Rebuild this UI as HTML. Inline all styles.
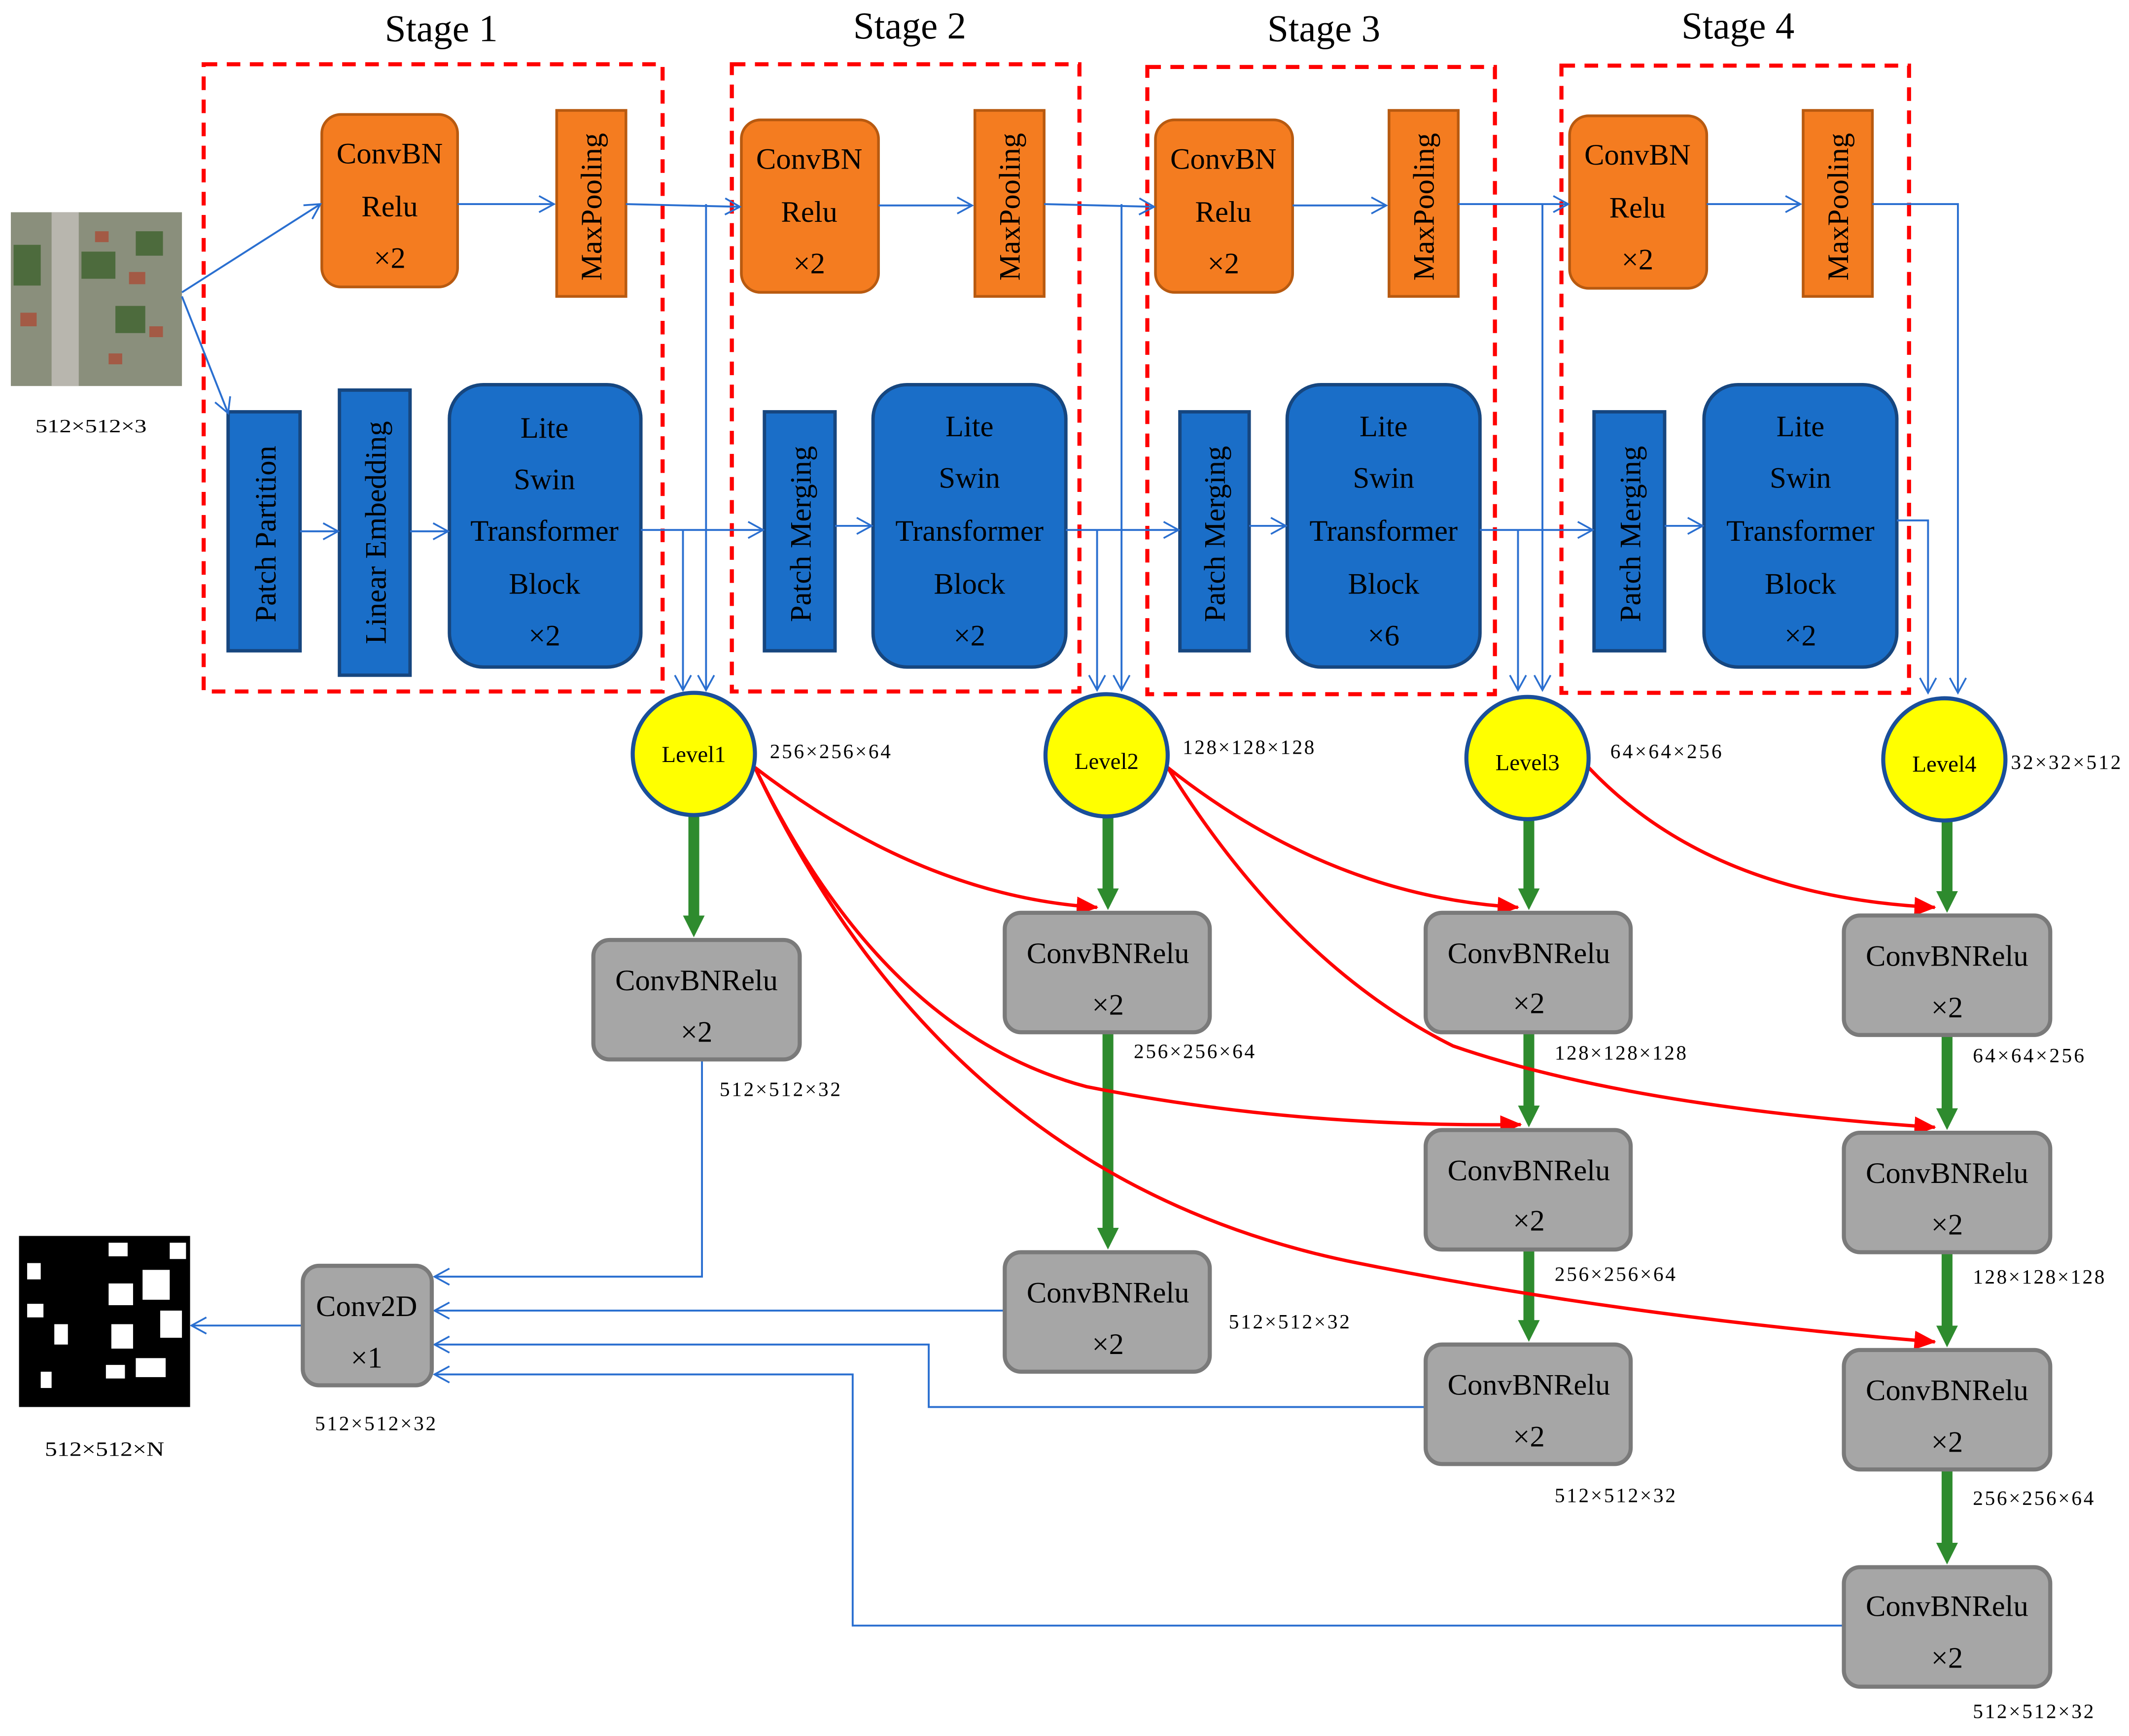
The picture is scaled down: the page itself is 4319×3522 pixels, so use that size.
<!DOCTYPE html>
<html><head><meta charset="utf-8"><style>html,body{margin:0;padding:0;background:#fff}svg{display:block}</style></head>
<body>
<svg xmlns="http://www.w3.org/2000/svg" width="4319" height="3522" viewBox="0 0 1568 1278" font-family="'Liberation Serif', serif">
<defs>
<marker id="ba" markerWidth="14" markerHeight="14" refX="12" refY="7" orient="auto" markerUnits="userSpaceOnUse"><polyline points="1,1 12,7 1,13" fill="none" stroke="#2a6fd0" stroke-width="1.3"/></marker>
<marker id="ra" markerWidth="16" markerHeight="14" refX="15" refY="7" orient="auto" markerUnits="userSpaceOnUse"><polygon points="0,0 16,7 0,14" fill="#f00"/></marker>
<marker id="ga" markerWidth="18" markerHeight="16" refX="8" refY="8" orient="auto" markerUnits="userSpaceOnUse"><polygon points="0,0 16,8 0,16" fill="#2e8b2e"/></marker>
</defs>
<rect width="1568" height="1278" fill="#fff"/>
<g font-size="28" text-anchor="middle" fill="#000">
<text x="325" y="30">Stage 1</text><text x="670" y="28">Stage 2</text><text x="975" y="30">Stage 3</text><text x="1280" y="28">Stage 4</text>
</g>
<g fill="none" stroke="#f00" stroke-width="3" stroke-dasharray="10,7">
<rect x="150" y="47" width="338" height="462"/><rect x="539" y="47" width="256" height="462"/><rect x="845" y="49" width="256" height="462"/><rect x="1150" y="48" width="256" height="462"/>
</g>
<rect x="8" y="156" width="126" height="128" fill="#8a8f7c"/>
<rect x="38" y="156" width="20" height="128" fill="#b8b6ae"/>
<g fill="#a35a45"><rect x="70" y="170" width="10" height="8"/><rect x="95" y="200" width="12" height="9"/><rect x="110" y="240" width="10" height="8"/><rect x="15" y="230" width="12" height="10"/><rect x="80" y="260" width="10" height="8"/></g>
<g fill="#4d6b3d"><rect x="60" y="185" width="25" height="20"/><rect x="100" y="170" width="20" height="18"/><rect x="10" y="180" width="20" height="30"/><rect x="85" y="225" width="22" height="20"/></g>
<text x="26" y="318" font-size="14" textLength="82" lengthAdjust="spacingAndGlyphs">512×512×3</text>
<rect x="14" y="910" width="126" height="126" fill="#000"/>
<g fill="#fff"><rect x="20" y="930" width="10" height="12"/><rect x="20" y="960" width="12" height="10"/><rect x="40" y="975" width="10" height="15"/><rect x="80" y="915" width="14" height="10"/><rect x="80" y="945" width="18" height="16"/><rect x="105" y="935" width="20" height="22"/><rect x="118" y="965" width="16" height="20"/><rect x="82" y="975" width="16" height="18"/><rect x="100" y="1000" width="22" height="14"/><rect x="78" y="1005" width="14" height="10"/><rect x="30" y="1010" width="8" height="12"/><rect x="125" y="915" width="12" height="12"/></g>
<text x="33" y="1072" font-size="15" textLength="88" lengthAdjust="spacingAndGlyphs">512×512×N</text>
<g fill="#f47c20" stroke="#b85a10" stroke-width="2">
<rect x="237" y="84" width="100" height="127" rx="14"/><rect x="546" y="88" width="101" height="127" rx="14"/><rect x="851" y="88" width="101" height="127" rx="14"/><rect x="1156" y="85" width="101" height="127" rx="14"/>
<rect x="410" y="81" width="51" height="137"/><rect x="718" y="81" width="51" height="137"/><rect x="1023" y="81" width="51" height="137"/><rect x="1328" y="81" width="51" height="137"/>
</g>
<g font-size="22" text-anchor="middle">
<text x="287" y="120">ConvBN</text><text x="287" y="159">Relu</text><text x="287" y="197">×2</text>
<text x="596" y="124">ConvBN</text><text x="596" y="163">Relu</text><text x="596" y="201">×2</text>
<text x="901" y="124">ConvBN</text><text x="901" y="163">Relu</text><text x="901" y="201">×2</text>
<text x="1206" y="121">ConvBN</text><text x="1206" y="160">Relu</text><text x="1206" y="198">×2</text>
<text transform="translate(443,152) rotate(-90)">MaxPooling</text>
<text transform="translate(751,152) rotate(-90)">MaxPooling</text>
<text transform="translate(1056,152) rotate(-90)">MaxPooling</text>
<text transform="translate(1361,152) rotate(-90)">MaxPooling</text>
</g>
<g fill="#1a6ec8" stroke="#16467f" stroke-width="2.5">
<rect x="168" y="303" width="53" height="176"/><rect x="250" y="287" width="52" height="210"/>
<rect x="331" y="283" width="141" height="208" rx="25"/>
<rect x="563" y="303" width="52" height="176"/><rect x="643" y="283" width="142" height="208" rx="25"/>
<rect x="869" y="303" width="51" height="176"/><rect x="948" y="283" width="142" height="208" rx="25"/>
<rect x="1174" y="303" width="52" height="176"/><rect x="1255" y="283" width="142" height="208" rx="25"/>
</g>
<g font-size="22" text-anchor="middle">
<text transform="translate(203,393) rotate(-90)">Patch Partition</text>
<text transform="translate(284,392) rotate(-90)">Linear Embedding</text>
<text transform="translate(597,393) rotate(-90)">Patch Merging</text>
<text transform="translate(902,393) rotate(-90)">Patch Merging</text>
<text transform="translate(1208,393) rotate(-90)">Patch Merging</text>
<text x="401" y="322">Lite</text><text x="401" y="360">Swin</text><text x="401" y="398">Transformer</text><text x="401" y="437">Block</text><text x="401" y="475">×2</text>
<text x="714" y="321">Lite</text><text x="714" y="359">Swin</text><text x="714" y="398">Transformer</text><text x="714" y="437">Block</text><text x="714" y="475">×2</text>
<text x="1019" y="321">Lite</text><text x="1019" y="359">Swin</text><text x="1019" y="398">Transformer</text><text x="1019" y="437">Block</text><text x="1019" y="475">×6</text>
<text x="1326" y="321">Lite</text><text x="1326" y="359">Swin</text><text x="1326" y="398">Transformer</text><text x="1326" y="437">Block</text><text x="1326" y="475">×2</text>
</g>
<g fill="none" stroke="#2a6fd0" stroke-width="1.4" marker-end="url(#ba)">
<line x1="134" y1="215" x2="236" y2="150"/><line x1="134" y1="218" x2="168" y2="304"/>
<line x1="221" y1="391" x2="249" y2="391"/><line x1="302" y1="391" x2="330" y2="391"/>
<line x1="337" y1="150" x2="408" y2="150"/><line x1="647" y1="151" x2="716" y2="151"/><line x1="952" y1="151" x2="1021" y2="151"/><line x1="1257" y1="150" x2="1326" y2="150"/>
<polyline points="461,150 545,152"/><polyline points="769,150 850,152"/><polyline points="1074,150 1155,150"/>
<polyline points="520,150 520,508"/><polyline points="826,150 826,508"/><polyline points="1136,150 1136,508"/>
<polyline points="472,390 562,390"/><polyline points="785,390 868,390"/><polyline points="1090,390 1173,390"/>
<polyline points="503,390 503,508"/><polyline points="808,390 808,508"/><polyline points="1118,390 1118,508"/>
<line x1="615" y1="387" x2="642" y2="387"/><line x1="920" y1="387" x2="947" y2="387"/><line x1="1226" y1="387" x2="1254" y2="387"/>
<polyline points="1379,150 1442,150 1442,510"/><polyline points="1397,383 1420,383 1420,510"/>
<polyline points="517,780 517,940 320,940"/>
<polyline points="740,965 320,965"/>
<polyline points="1050,1036 684,1036 684,990 320,990"/>
<polyline points="1358,1197 628,1197 628,1012 320,1012"/>
<polyline points="223,976 141,976"/>
</g>
<g stroke="#2e8b2e" stroke-width="8" marker-end="url(#ga)">
<line x1="511" y1="600" x2="511" y2="682"/>
<line x1="816" y1="602" x2="816" y2="662"/><line x1="816" y1="760" x2="816" y2="912"/>
<line x1="1126" y1="604" x2="1126" y2="662"/><line x1="1126" y1="760" x2="1126" y2="822"/><line x1="1126" y1="920" x2="1126" y2="980"/>
<line x1="1434" y1="605" x2="1434" y2="664"/><line x1="1434" y1="762" x2="1434" y2="824"/><line x1="1434" y1="922" x2="1434" y2="984"/><line x1="1434" y1="1082" x2="1434" y2="1144"/>
</g>
<g fill="none" stroke="#f00" stroke-width="2.5" marker-end="url(#ra)">
<path d="M556,565 Q680,660 808,668"/>
<path d="M556,565 Q650,760 800,800 Q950,830 1120,828"/>
<path d="M556,565 Q700,870 1000,930 Q1200,970 1425,988"/>
<path d="M860,565 Q980,660 1118,668"/>
<path d="M860,565 Q950,710 1070,770 Q1200,815 1425,830"/>
<path d="M1170,565 Q1260,660 1425,668"/>
</g>
<g fill="#ffff00" stroke="#1a4f9a" stroke-width="3">
<circle cx="511" cy="555" r="45"/><circle cx="815" cy="556" r="45"/><circle cx="1125" cy="558" r="45"/><circle cx="1432" cy="559" r="45"/>
</g>
<g font-size="17" text-anchor="middle">
<text x="511" y="561">Level1</text><text x="815" y="566">Level2</text><text x="1125" y="567">Level3</text><text x="1432" y="568">Level4</text>
</g>
<g fill="#a6a6a6" stroke="#7a7a7a" stroke-width="3">
<rect x="437" y="692" width="152" height="88" rx="12"/>
<rect x="740" y="672" width="151" height="88" rx="12"/><rect x="740" y="922" width="151" height="88" rx="12"/>
<rect x="1050" y="672" width="151" height="88" rx="12"/><rect x="1050" y="832" width="151" height="88" rx="12"/><rect x="1050" y="990" width="151" height="88" rx="12"/>
<rect x="1358" y="674" width="152" height="88" rx="12"/><rect x="1358" y="834" width="152" height="88" rx="12"/><rect x="1358" y="994" width="152" height="88" rx="12"/><rect x="1358" y="1154" width="152" height="88" rx="12"/>
<rect x="223" y="932" width="95" height="88" rx="12"/>
</g>
<g font-size="22" text-anchor="middle">
<text x="513" y="729">ConvBNRelu</text><text x="513" y="767">×2</text>
<text x="816" y="709">ConvBNRelu</text><text x="816" y="747">×2</text>
<text x="816" y="959">ConvBNRelu</text><text x="816" y="997">×2</text>
<text x="1126" y="709">ConvBNRelu</text><text x="1126" y="746">×2</text>
<text x="1126" y="869">ConvBNRelu</text><text x="1126" y="906">×2</text>
<text x="1126" y="1027">ConvBNRelu</text><text x="1126" y="1065">×2</text>
<text x="1434" y="711">ConvBNRelu</text><text x="1434" y="749">×2</text>
<text x="1434" y="871">ConvBNRelu</text><text x="1434" y="909">×2</text>
<text x="1434" y="1031">ConvBNRelu</text><text x="1434" y="1069">×2</text>
<text x="1434" y="1190">ConvBNRelu</text><text x="1434" y="1228">×2</text>
<text x="270" y="969">Conv2D</text><text x="270" y="1007">×1</text>
</g>
<g font-size="15" text-anchor="start" lengthAdjust="spacingAndGlyphs">
<text x="567" y="558" textLength="89">256×256×64</text><text x="871" y="555" textLength="97">128×128×128</text><text x="1186" y="558" textLength="82">64×64×256</text><text x="1481" y="566" textLength="81">32×32×512</text>
<text x="530" y="807" textLength="89">512×512×32</text><text x="835" y="779" textLength="89">256×256×64</text><text x="905" y="978" textLength="89">512×512×32</text>
<text x="1145" y="780" textLength="97">128×128×128</text><text x="1145" y="943" textLength="89">256×256×64</text><text x="1145" y="1106" textLength="89">512×512×32</text>
<text x="1453" y="782" textLength="82">64×64×256</text><text x="1453" y="945" textLength="97">128×128×128</text><text x="1453" y="1108" textLength="89">256×256×64</text><text x="1453" y="1265" textLength="89">512×512×32</text>
<text x="232" y="1053" textLength="89">512×512×32</text>
</g>
</svg>
</body></html>
